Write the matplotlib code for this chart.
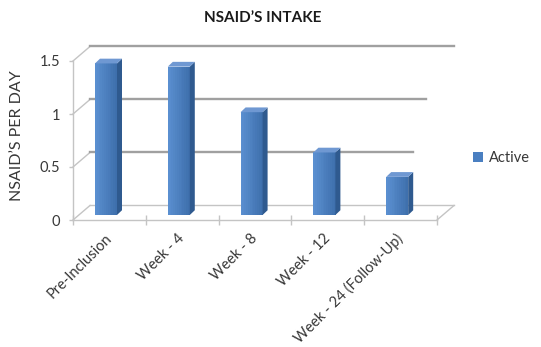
import numpy as np
import matplotlib
matplotlib.use("Agg")
import matplotlib.pyplot as plt
from matplotlib.patches import Polygon, Patch

# Chart data
categories = ["Pre-Inclusion", "Week - 4", "Week - 8", "Week - 12", "Week - 24 (Follow-Up)"]
active = [1.43, 1.40, 0.97, 0.59, 0.36]
y_ticks = [0, 0.5, 1, 1.5]
y_tick_labels = ["0", "0.5", "1", "1.5"]
series_name = "Active"
title = "NSAID\u2019S INTAKE"
y_label = "NSAID\u2019S PER DAY"

plt.rcParams['font.family'] = ['Lato', 'DejaVu Sans']

W, H = 541, 347
fig = plt.figure(figsize=(W / 100, H / 100), dpi=100)
fig.patch.set_facecolor("white")

# front plane of the pseudo-3D plot area (pixel geometry)
x_left, x_right, y_zero, y_top = 73, 437, 220, 61
ax = fig.add_axes([x_left / W, (H - y_zero) / H, (x_right - x_left) / W, (y_zero - y_top) / H])
n = len(categories)
ax.set_xlim(-0.5, n - 0.5)
ax.set_ylim(0, 1.5)
ax.set_facecolor("none")

# oblique depth of the chart box, in data units
DX, DY = 0.2335, 0.137
grid_col = "#a0a0a0"
floor_col = "#c4c4c4"

# back-wall gridlines and the connectors to the front axis
wall_ends = {0.5: 4.17, 1: 4.35, 1.5: n - 0.5 + DX}
for v in y_ticks:
    ax.plot([-0.5, -0.5 + DX], [v, v + DY], color=floor_col, lw=1.0, clip_on=False, zorder=1)
    if v > 0:
        ax.plot([-0.5 + DX, wall_ends[v]], [v + DY, v + DY], color=grid_col, lw=1.7,
                clip_on=False, zorder=1)
# floor
ax.plot([-0.5 + DX, n - 0.5 + DX], [DY, DY], color=floor_col, lw=1.0, clip_on=False, zorder=1)
ax.plot([n - 0.5, n - 0.5 + DX], [0, DY], color=floor_col, lw=1.0, clip_on=False, zorder=1)

# columns: front face, side face, top face
BW, SX, SY = 0.302, 0.069, 0.045
shift_x, base = -0.047, 0.047
side_col, top_col = "#2f5a8f", "#6f98d2"
c_left = np.array(matplotlib.colors.to_rgb("#5a8fd0"))
c_right = np.array(matplotlib.colors.to_rgb("#3f70ad"))
strips = 12
for i, v in enumerate(active):
    x0 = i + shift_x - BW / 2
    x1 = x0 + BW
    y1 = base + v
    # front face with a soft horizontal gradient
    for k in range(strips):
        xa = x0 + BW * k / strips
        xb = x0 + BW * (k + 1) / strips
        t = k / (strips - 1)
        col = c_left * (1 - t) + c_right * t
        ax.add_patch(Polygon([(xa, base), (xb + 0.002, base), (xb + 0.002, y1), (xa, y1)],
                             closed=True, facecolor=col, edgecolor="none",
                             clip_on=False, zorder=3))
    ax.add_patch(Polygon([(x1, base), (x1 + SX, base + SY), (x1 + SX, y1 + SY), (x1, y1)],
                         closed=True, facecolor=side_col, edgecolor="none", clip_on=False, zorder=3))
    ax.add_patch(Polygon([(x0, y1), (x0 + SX, y1 + SY), (x1 + SX, y1 + SY), (x1, y1)],
                         closed=True, facecolor=top_col, edgecolor="none", clip_on=False, zorder=3))

# axes, ticks and labels
for s in ["top", "right"]:
    ax.spines[s].set_visible(False)
for s in ["left", "bottom"]:
    ax.spines[s].set_color(floor_col)
    ax.spines[s].set_linewidth(1.0)
    ax.spines[s].set_zorder(1)

text_col = "#383838"
ax.set_yticks(y_ticks)
ax.set_yticklabels(y_tick_labels, fontsize=10.5, color=text_col)
ax.tick_params(axis="y", length=3, width=1, color=floor_col, pad=6)

ax.set_xticks(range(n))
ax.set_xticklabels(categories, fontsize=10.5, color=text_col, rotation=45,
                   ha="right", va="center", rotation_mode="anchor")
ax.tick_params(axis="x", which="major", length=0, pad=12)
ax.set_xticks(np.arange(-0.5, n, 1), minor=True)
ax.tick_params(axis="x", which="minor", length=7, width=1, color=floor_col, direction="inout")

fig.text(263 / W, 1 - 18 / H, title, ha="center", va="center", fontsize=11,
         fontweight="bold", color="#1a1a1a")
fig.text(17 / W, 1 - 136 / H, y_label, ha="center", va="center", rotation=90,
         fontsize=11.5, color=text_col)

fig.legend(handles=[Patch(facecolor="#4a7fc1", edgecolor="none")], labels=[series_name],
           loc="center left", bbox_to_anchor=(473 / W, 1 - 158 / H), frameon=False,
           handlelength=0.7, handleheight=0.7, handletextpad=0.4, borderpad=0,
           borderaxespad=0, prop={"size": 10.5}, labelcolor=text_col)

fig.savefig("out.png", dpi=100, facecolor="white")
